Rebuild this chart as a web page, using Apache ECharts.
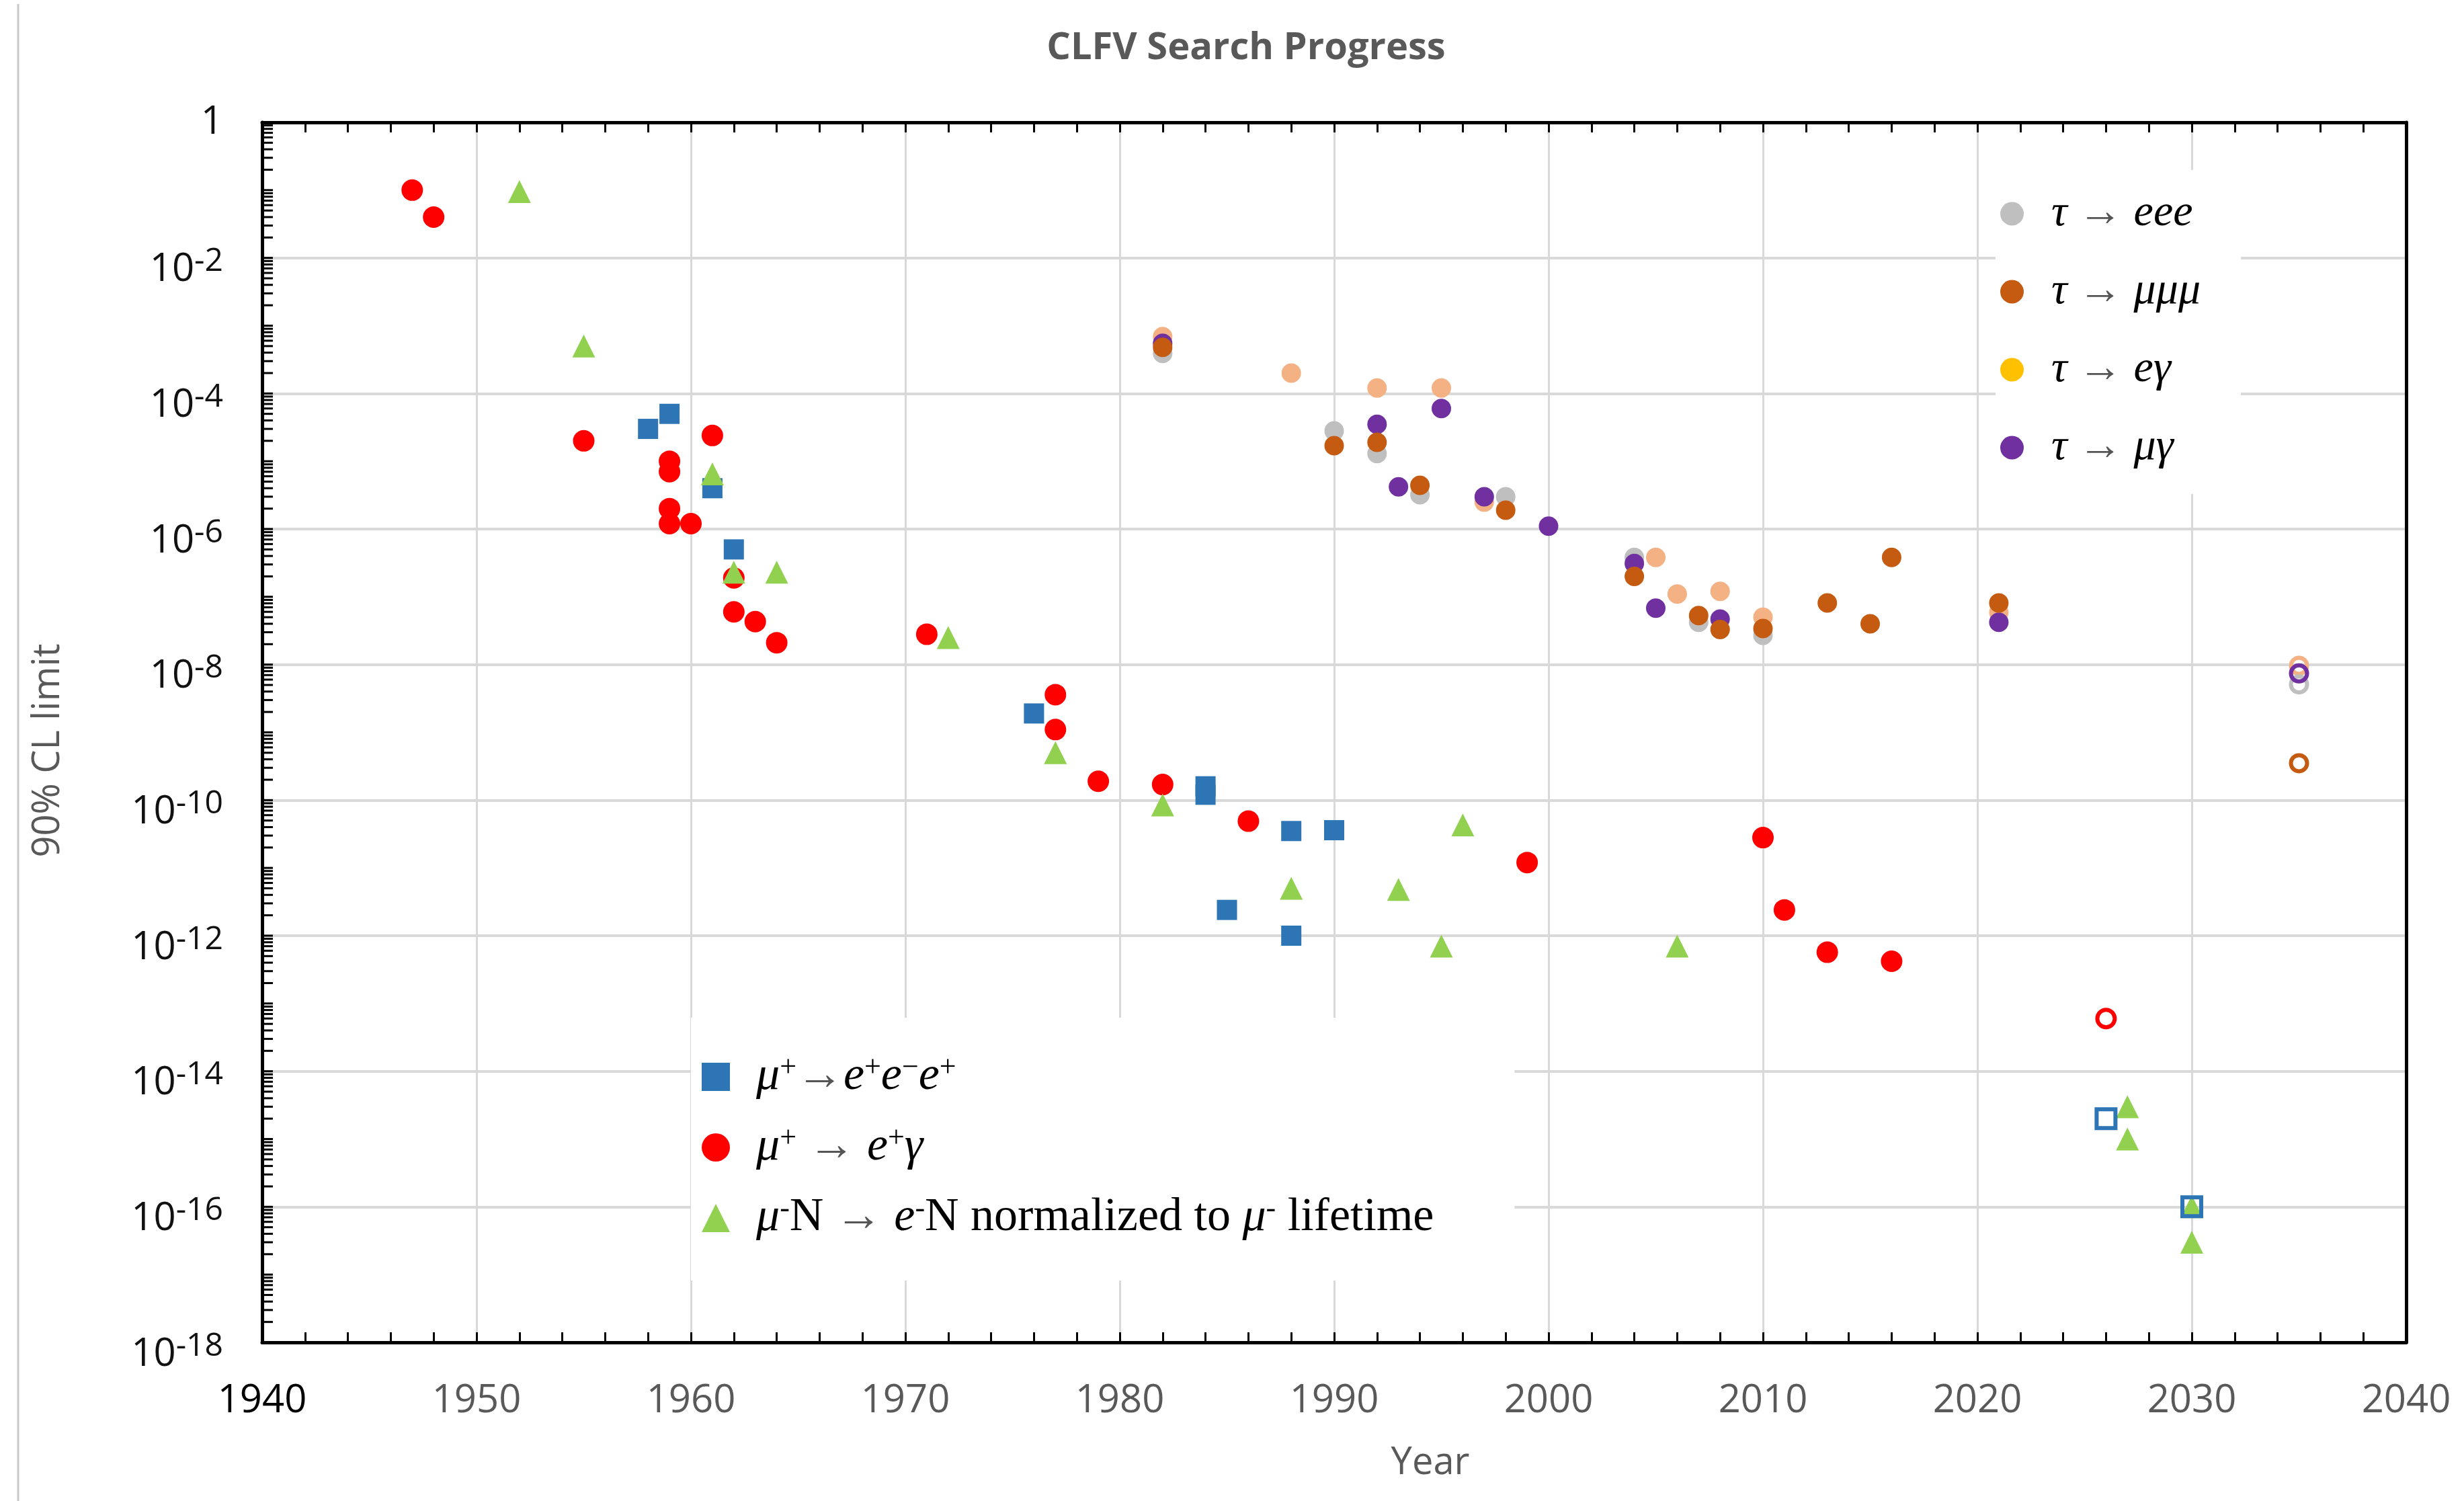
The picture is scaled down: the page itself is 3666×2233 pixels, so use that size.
<!DOCTYPE html>
<html>
<head>
<meta charset="utf-8">
<title>CLFV Search Progress</title>
<script src="https://cdn.jsdelivr.net/npm/echarts@6.0.0/dist/echarts.min.js"></script>
<style>
html, body { margin: 0; padding: 0; background: #fff; }
#chart { width: 3666px; height: 2233px; }
</style>
</head>
<body>
<div id="chart"></div>
<script>
// [year, 90% CL upper limit]
var muEeeData = [[1958, 3e-5], [1959, 5e-5], [1961, 4e-6], [1962, 5e-7], [1976, 1.9e-9],
    [1984, 1.6e-10], [1984, 1.2e-10], [1985, 2.4e-12], [1988, 3.5e-11], [1988, 1e-12], [1990, 3.6e-11]];
var muEeeFuture = [[2026, 2e-15], [2030, 1e-16]];

var muEgData = [[1947, 1e-1], [1948, 4e-2], [1955, 2e-5], [1959, 1e-5], [1959, 7e-6], [1959, 2e-6],
    [1959, 1.2e-6], [1960, 1.2e-6], [1961, 2.4e-5], [1962, 1.9e-7], [1962, 6e-8], [1963, 4.3e-8],
    [1964, 2.1e-8], [1971, 2.8e-8], [1977, 3.6e-9], [1977, 1.1e-9], [1979, 1.9e-10], [1982, 1.7e-10],
    [1986, 4.9e-11], [1999, 1.2e-11], [2010, 2.8e-11], [2011, 2.4e-12], [2013, 5.7e-13], [2016, 4.2e-13]];
var muEgFuture = [[2026, 6e-14]];

var muConvData = [[1952, 9.5e-2], [1955, 5e-4], [1961, 6.5e-6], [1962, 2.3e-7], [1964, 2.3e-7],
    [1972, 2.5e-8], [1977, 5e-10], [1982, 8.5e-11], [1988, 5e-12], [1993, 4.8e-12], [1995, 7e-13],
    [1996, 4.3e-11], [2006, 7e-13]];
var muConvProjected = [[2027, 3e-15], [2027, 1e-15], [2030, 1e-16], [2030, 3e-17]];

var tauEeeData = [[1982, 3.9e-4], [1990, 2.8e-5], [1992, 1.3e-5], [1994, 3.2e-6], [1998, 3e-6],
    [2004, 3.8e-7], [2007, 4.2e-8], [2010, 2.7e-8]];
var tauEeeFuture = [[2035, 5.1e-9]];

var tauMumumuData = [[1982, 4.8e-4], [1990, 1.7e-5], [1992, 1.9e-5], [1994, 4.4e-6], [1998, 1.9e-6],
    [2004, 2e-7], [2007, 5.3e-8], [2008, 3.3e-8], [2010, 3.4e-8], [2013, 8.1e-8], [2015, 4e-8],
    [2016, 3.8e-7], [2021, 8.1e-8]];
var tauMumumuFuture = [[2035, 3.5e-10]];

var tauEgData = [[1982, 6.9e-4], [1988, 2e-4], [1992, 1.2e-4], [1995, 1.2e-4], [1997, 2.5e-6],
    [2005, 3.8e-7], [2006, 1.1e-7], [2008, 1.2e-7], [2010, 5e-8], [2021, 5.9e-8]];
var tauEgFuture = [[2035, 9.6e-9]];

var tauMugData = [[1982, 5.5e-4], [1992, 3.5e-5], [1993, 4.2e-6], [1995, 6e-5], [1997, 3e-6],
    [2000, 1.1e-6], [2004, 3.1e-7], [2005, 6.8e-8], [2008, 4.7e-8], [2021, 4.2e-8]];
var tauMugFuture = [[2035, 7.4e-9]];

var yearTicks = { min: 1940, max: 2040, step: 10 };
var limitTicks = { min: 1e-18, max: 1, step: 2 };

// log minor ticks on the left axis: 1..9 x 10^e
var logTicks = [];
for (var e = -18; e < 0; e++) {
    for (var k = 1; k < 10; k++) logTicks.push([1940, k * Math.pow(10, e)]);
}
logTicks.push([1940, 1]);

var C = {
    blue: '#2E75B6', red: '#FF0000', green: '#92D050',
    gray: '#BFBFBF', orange: '#C55A11', peach: '#F4B183', purple: '#7030A0', yellow: '#FFC000'
};

var SERIF = "'Liberation Serif', 'DejaVu Serif', serif";
var SANS = "'Open Sans', 'Noto Sans', sans-serif";

var NAMES = {
    mu3e: 'μ+ → e+e−e+', meg: 'μ+ → e+γ', conv: 'μ−N → e−N',
    t3e: 'τ → eee', t3mu: 'τ → μμμ', teg: 'τ → eγ', tmg: 'τ → μγ'
};

var legendText = {};
legendText[NAMES.mu3e] = '{i0|μ}{u|+}{a|→}{i|e}{u|+}{i|e}{u|−}{i|e}{u|+}';
legendText[NAMES.meg] = '{i0|μ}{u|+}{a| → }{i|e}{u|+}{i|γ}';
legendText[NAMES.conv] = '{i0|μ}{u|-}{r|N}{a| → }{i|e}{u|-}{r|N normalized to }{i|μ}{u|-}{r| lifetime}';
legendText[NAMES.t3e] = '{t0|τ}{a| → }{i|eee}';
legendText[NAMES.t3mu] = '{t0|τ}{a| → }{i|μμμ}';
legendText[NAMES.teg] = '{t0|τ}{a| → }{i|eγ}';
legendText[NAMES.tmg] = '{t0|τ}{a| → }{i|μγ}';

function filled(name, arr, color, symbol, size) {
    return {
        name: name, type: 'scatter', data: arr, symbol: symbol, symbolSize: size,
        itemStyle: { color: color, opacity: 1 }
    };
}
function hollow(name, arr, color, symbol, size) {
    return {
        name: name, type: 'scatter', data: arr, symbol: symbol, symbolSize: size,
        itemStyle: { color: 'rgba(0,0,0,0)', borderColor: color, borderWidth: 6, opacity: 1 }
    };
}

var axisBlack = { color: '#000', width: 5 };
var tickStyle = { color: '#000', width: 3 };

var option = {
    animation: false,
    backgroundColor: '#fff',
    title: {
        text: 'CLFV Search Progress', left: 1854, top: 44, textAlign: 'center', padding: 0,
        textStyle: { fontFamily: SANS, fontWeight: 'bold', fontSize: 56, color: '#595959' }
    },
    grid: { left: 390, right: 86, top: 182, bottom: 236 },
    graphic: [{
        type: 'line', silent: true,
        shape: { x1: 27, y1: 6, x2: 27, y2: 2233 },
        style: { stroke: '#c9c9c9', lineWidth: 3 }
    }],
    legend: [{
        orient: 'vertical', left: 2969, top: 253, padding: [32, 60, 36, 7], itemGap: 50,
        itemWidth: 35, itemHeight: 35, backgroundColor: '#fff', selectedMode: false,
        data: [NAMES.t3e, NAMES.t3mu, { name: NAMES.teg, itemStyle: { color: C.yellow } }, NAMES.tmg],
        formatter: function (n) { return legendText[n]; },
        textStyle: {
            fontFamily: SERIF, fontSize: 66, color: '#000',
            rich: {
                t0: { fontFamily: SERIF, fontStyle: 'italic', fontSize: 66, lineHeight: 70, color: '#000', padding: [0, 0, 0, 36] },
                i: { fontFamily: SERIF, fontStyle: 'italic', fontSize: 66, lineHeight: 70, color: '#000' },
                a: { fontFamily: SERIF, fontSize: 66, lineHeight: 70, color: '#555' }
            }
        }
    }, {
        orient: 'vertical', left: 1028, top: 1514, padding: [53, 120, 58, 16], itemGap: 35,
        itemWidth: 42, itemHeight: 42, backgroundColor: '#fff', selectedMode: false,
        data: [NAMES.mu3e, NAMES.meg, NAMES.conv],
        formatter: function (n) { return legendText[n]; },
        textStyle: {
            fontFamily: SERIF, fontSize: 70, color: '#000',
            rich: {
                i0: { fontFamily: SERIF, fontStyle: 'italic', fontSize: 70, lineHeight: 70, color: '#000', padding: [0, 0, 0, 34] },
                i: { fontFamily: SERIF, fontStyle: 'italic', fontSize: 70, lineHeight: 70, color: '#000' },
                r: { fontFamily: SERIF, fontSize: 70, lineHeight: 70, color: '#000' },
                u: { fontFamily: SERIF, fontSize: 44, lineHeight: 30, verticalAlign: 'top', color: '#000' },
                a: { fontFamily: SERIF, fontSize: 70, lineHeight: 70, color: '#555' }
            }
        }
    }],
    xAxis: [{
        type: 'value', position: 'bottom',
        min: yearTicks.min, max: yearTicks.max, interval: yearTicks.step,
        axisLine: { show: true, onZero: false, lineStyle: axisBlack },
        axisTick: { show: true, inside: true, length: 15, lineStyle: tickStyle },
        minorTick: { show: true, splitNumber: 5, length: 15, lineStyle: tickStyle },
        splitLine: { show: true, lineStyle: { color: '#d9d9d9', width: 3 } },
        axisLabel: {
            margin: 58, fontFamily: SANS, fontSize: 58, color: '#595959',
            formatter: function (v) { return v === 1940 ? '{k|' + v + '}' : String(v); },
            rich: { k: { fontFamily: SANS, fontSize: 58, color: '#000' } }
        },
        name: 'Year', nameLocation: 'middle', nameGap: 152,
        nameTextStyle: { fontFamily: SANS, fontSize: 56, color: '#595959', padding: [0, 0, 0, 286] }
    }, {
        type: 'value', position: 'top',
        min: yearTicks.min, max: yearTicks.max, interval: yearTicks.step,
        axisLine: { show: true, onZero: false, lineStyle: axisBlack },
        axisTick: { show: true, inside: true, length: 15, lineStyle: tickStyle },
        minorTick: { show: true, splitNumber: 5, length: 15, lineStyle: tickStyle },
        splitLine: { show: false },
        axisLabel: { show: false }
    }],
    yAxis: [{
        type: 'log', logBase: 10, position: 'left',
        min: limitTicks.min, max: limitTicks.max, interval: limitTicks.step,
        axisLine: { show: true, onZero: false, lineStyle: axisBlack },
        axisTick: { show: false },
        splitLine: { show: true, lineStyle: { color: '#d9d9d9', width: 4 } },
        axisLabel: {
            margin: 58,
            formatter: function (v) {
                var p = Math.round(Math.log10(v));
                return p === 0 ? '{one|1}' : '{b|10}{s|' + p + '}';
            },
            rich: {
                one: { fontFamily: SANS, fontSize: 58, color: '#111' },
                b: { fontFamily: SANS, fontSize: 58, color: '#111', lineHeight: 36, padding: [36, 0, 0, 0] },
                s: { fontFamily: SANS, fontSize: 48, color: '#111', lineHeight: 36, verticalAlign: 'top' }
            }
        },
        name: '90% CL limit', nameLocation: 'middle', nameGap: 290, nameRotate: 90,
        nameTextStyle: { fontFamily: SANS, fontSize: 56, color: '#595959', padding: [0, 54, 0, 0] }
    }, {
        type: 'log', logBase: 10, position: 'right',
        min: limitTicks.min, max: limitTicks.max,
        axisLine: { show: true, onZero: false, lineStyle: axisBlack },
        axisTick: { show: false }, axisLabel: { show: false }, splitLine: { show: false }
    }],
    series: [
        filled(NAMES.teg, tauEgData, C.peach, 'circle', 29),
        filled(NAMES.t3e, tauEeeData, C.gray, 'circle', 29),
        filled(NAMES.tmg, tauMugData, C.purple, 'circle', 29),
        filled(NAMES.t3mu, tauMumumuData, C.orange, 'circle', 29),
        filled(NAMES.mu3e, muEeeData, C.blue, 'rect', 30),
        filled(NAMES.meg, muEgData, C.red, 'circle', 32),
        filled(NAMES.conv, muConvData.concat(muConvProjected), C.green, 'triangle', 34),
        {
            name: 'y minor ticks', type: 'custom', data: logTicks, silent: true, z: 5,
            encode: { x: 0, y: 1 },
            renderItem: function (params, api) {
                var p = api.coord([api.value(0), api.value(1)]);
                return {
                    type: 'line',
                    shape: { x1: p[0], y1: p[1], x2: p[0] + 16, y2: p[1] },
                    style: { stroke: '#000', lineWidth: 3 }
                };
            }
        },
        hollow('τ → eγ (future)', tauEgFuture, C.peach, 'circle', 24),
        hollow('τ → eee (future)', tauEeeFuture, C.gray, 'circle', 24),
        hollow('τ → μγ (future)', tauMugFuture, C.purple, 'circle', 24),
        hollow('τ → μμμ (future)', tauMumumuFuture, C.orange, 'circle', 24),
        hollow('μ+ → e+γ (future)', muEgFuture, C.red, 'circle', 26),
        hollow('μ+ → e+e−e+ (future)', muEeeFuture, C.blue, 'rect', 28)
    ]
};

var myChart = echarts.init(document.getElementById('chart'));
myChart.setOption(option);
</script>
</body>
</html>
